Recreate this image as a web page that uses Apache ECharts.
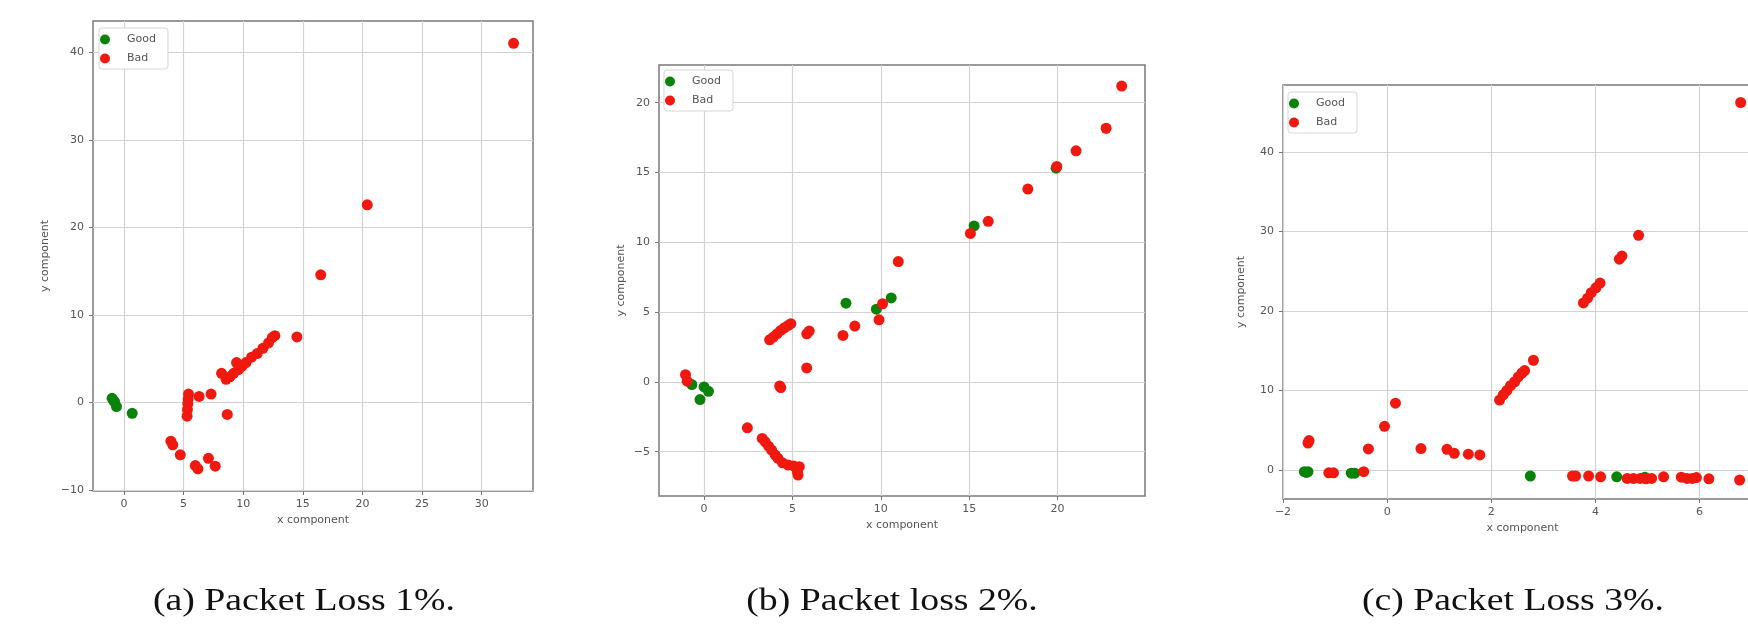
<!DOCTYPE html>
<html>
<head>
<meta charset="utf-8">
<script src="https://cdn.jsdelivr.net/npm/echarts@6/dist/echarts.min.js"></script>
<style>
  html, body { margin: 0; padding: 0; background: #fff; overflow: hidden; }
  /* the third panel runs past the right edge of the picture, as in the source */
  #main { width: 1780px; height: 628px; }
</style>
</head>
<body>
<div id="main"></div>
<script>
// panel (a) packet loss 1%
const goodA = [[-1.0, 0.49], [-0.85, 0.2], [-0.79, 0.08], [-0.63, -0.45], [0.69, -1.23]]
const badA = [[32.67, 41.05], [20.4, 22.6], [16.5, 14.6], [14.5, 7.5], [8.18, 3.35], [8.56, 2.66],
  [8.88, 2.94], [9.19, 3.35], [9.44, 4.58], [9.6, 3.76], [9.91, 4.17], [10.23, 4.58], [10.7, 5.19],
  [11.17, 5.6], [11.65, 6.21], [12.12, 6.82], [12.43, 7.43], [12.65, 7.64], [8.66, -1.35], [7.3, 0.98],
  [5.41, 0.98], [6.3, 0.7], [5.38, 0.4], [5.35, -0.12], [5.32, -0.8], [5.29, -1.55], [3.93, -4.41],
  [4.09, -4.82], [4.72, -5.96], [5.98, -7.19], [6.2, -7.56], [7.08, -6.37], [7.65, -7.27]]

// panel (b) packet loss 2%
const goodB = [[15.28, 11.17], [19.92, 15.31], [8.03, 5.64], [9.75, 5.21], [10.59, 6.02],
  [-0.69, -0.19], [0.0, -0.36], [0.25, -0.67], [-0.23, -1.26]]
const badB = [[23.63, 21.19], [22.75, 18.17], [21.05, 16.55], [19.96, 15.43], [18.32, 13.81],
  [16.08, 11.5], [15.07, 10.64], [10.99, 8.62], [10.1, 5.6], [9.9, 4.45], [8.53, 4.0], [7.86, 3.33],
  [5.81, 3.45], [5.95, 3.64], [5.81, 1.0], [3.71, 3.02], [3.92, 3.21], [4.13, 3.45], [4.34, 3.69],
  [4.55, 3.88], [4.76, 4.05], [4.91, 4.17], [4.28, -0.29], [4.34, -0.4], [-1.05, 0.52], [-0.96, 0.05],
  [2.45, -3.29], [3.29, -4.05], [3.46, -4.29], [3.65, -4.6], [3.82, -4.88], [4.03, -5.24], [4.19, -5.48],
  [4.44, -5.79], [4.76, -5.95], [5.07, -6.02], [5.39, -6.07], [5.28, -6.43], [5.32, -6.67]]

// panel (c) packet loss 3%
const goodC = [[-1.59, -0.2], [-1.52, -0.2], [-1.55, -0.3], [-0.69, -0.4], [-0.62, -0.4],
  [2.75, -0.75], [4.41, -0.85], [4.95, -0.9]]
const badC = [[6.79, 46.2], [4.83, 29.5], [4.46, 26.5], [4.51, 26.9], [3.77, 21.0], [3.85, 21.6],
  [3.92, 22.3], [4.01, 22.9], [4.09, 23.5], [2.81, 13.8], [2.16, 8.8], [2.23, 9.45], [2.3, 10.0],
  [2.37, 10.6], [2.45, 11.1], [2.52, 11.7], [2.59, 12.2], [2.64, 12.5], [0.16, 8.4], [-0.05, 5.5],
  [-0.36, 2.65], [0.65, 2.7], [1.15, 2.6], [1.29, 2.1], [1.56, 2.0], [1.78, 1.9], [-1.5, 3.7],
  [-1.52, 3.4], [-0.45, -0.2], [-1.12, -0.35], [-1.03, -0.35], [3.56, -0.75], [3.62, -0.75],
  [3.87, -0.75], [4.1, -0.85], [4.61, -1.05], [4.73, -1.05], [4.86, -1.05], [4.97, -1.1],
  [5.08, -1.05], [5.31, -0.85], [5.65, -0.9], [5.76, -1.05], [5.86, -1.05], [5.94, -0.95],
  [6.18, -1.1], [6.77, -1.25]]

// axis limits and tick values
const xLimits = [[-2.6, 34.3], [-2.55, 24.95], [-2, 7.2]]
const yLimits = [[-10.1, 43.6], [-8.17, 22.7], [-3.64, 48.4]]
const xTicks = [[0, 5, 10, 15, 20, 25, 30], [0, 5, 10, 15, 20], [-2, 0, 2, 4, 6]]
const yTicks = [[-10, 0, 10, 20, 30, 40], [-5, 0, 5, 10, 15, 20], [0, 10, 20, 30, 40]]
const captions = ['(a) Packet Loss 1%.', '(b) Packet loss 2%.', '(c) Packet Loss 3%.']
const seriesNames = ['Good', 'Bad']

const goodSets = [goodA, goodB, goodC]
const badSets = [badA, badB, badC]

// layout of the three subplots (pixels)
const boxes = [
  {left: 93, top: 21, width: 440, height: 470, legend: [99, 28], yGap: 42, captionX: 304},
  {left: 659, top: 65, width: 486, height: 431, legend: [664, 70], yGap: 32, captionX: 892},
  {left: 1283, top: 85, width: 479, height: 414, legend: [1288, 92], yGap: 36, captionX: 1513}
]

const GREEN = '#0a820a'
const RED = '#f0190f'
const labelFont = 'DejaVu Sans'

function fmt(v) {
  return String(v).replace('-', '\u2212')
}

function axisCommon(i, lim, ticks, dir) {
  const step = ticks[1] - ticks[0]
  return {
    type: 'value',
    gridIndex: i,
    min: lim[0],
    max: lim[1],
    splitNumber: Math.round((lim[1] - lim[0]) / step),
    name: dir + ' component',
    nameLocation: 'middle',
    nameGap: dir === 'x' ? 24 : boxes[i].yGap,
    nameTextStyle: {fontSize: 11, color: '#555', fontFamily: labelFont},
    axisLine: {show: false, onZero: false},
    axisTick: {
      show: true, inside: false, length: 4, customValues: ticks,
      lineStyle: {color: '#777', width: 1}
    },
    axisLabel: {
      fontSize: 11, color: '#555', fontFamily: labelFont,
      margin: dir === 'x' ? 8 : 9,
      customValues: ticks,
      formatter: fmt
    },
    splitLine: {show: true, lineStyle: {color: '#d2d2d2', width: 1.2}}
  }
}

let grids = [], xAxes = [], yAxes = [], series = [], legends = [], graphics = []
for (let i = 0; i < 3; i++) {
  const b = boxes[i]
  grids.push({
    left: b.left, top: b.top, width: b.width, height: b.height,
    show: true, borderColor: '#7a7a7a', borderWidth: 1.5, backgroundColor: '#fff'
  })
  xAxes.push(axisCommon(i, xLimits[i], xTicks[i], 'x'))
  yAxes.push(axisCommon(i, yLimits[i], yTicks[i], 'y'))
  series.push({
    name: seriesNames[0], type: 'scatter', xAxisIndex: i, yAxisIndex: i,
    symbolSize: 11, itemStyle: {color: GREEN, opacity: 1}, data: goodSets[i]
  })
  series.push({
    name: seriesNames[1], type: 'scatter', xAxisIndex: i, yAxisIndex: i,
    symbolSize: 11, itemStyle: {color: RED, opacity: 1}, data: badSets[i]
  })
  legends.push({
    left: b.legend[0], top: b.legend[1],
    orient: 'vertical', icon: 'circle',
    itemWidth: 34, itemHeight: 10, itemGap: 8,
    padding: [6, 12, 5, 1],
    borderColor: '#d6d6d6', borderWidth: 1, borderRadius: 3,
    backgroundColor: '#fff',
    selectedMode: false,
    textStyle: {fontSize: 11, color: '#555', fontFamily: labelFont},
    data: seriesNames
  })
  graphics.push({
    type: 'text', x: b.captionX, y: 602, scaleX: 1.18,
    style: {
      text: captions[i], fill: '#111',
      font: '32px "Liberation Serif"',
      textAlign: 'center', textVerticalAlign: 'middle'
    }
  })
}

const chart = echarts.init(document.getElementById('main'), null, {renderer: 'canvas'})
chart.setOption({
  animation: false,
  backgroundColor: '#fff',
  grid: grids,
  xAxis: xAxes,
  yAxis: yAxes,
  legend: legends,
  graphic: graphics,
  series: series
})
</script>
</body>
</html>
